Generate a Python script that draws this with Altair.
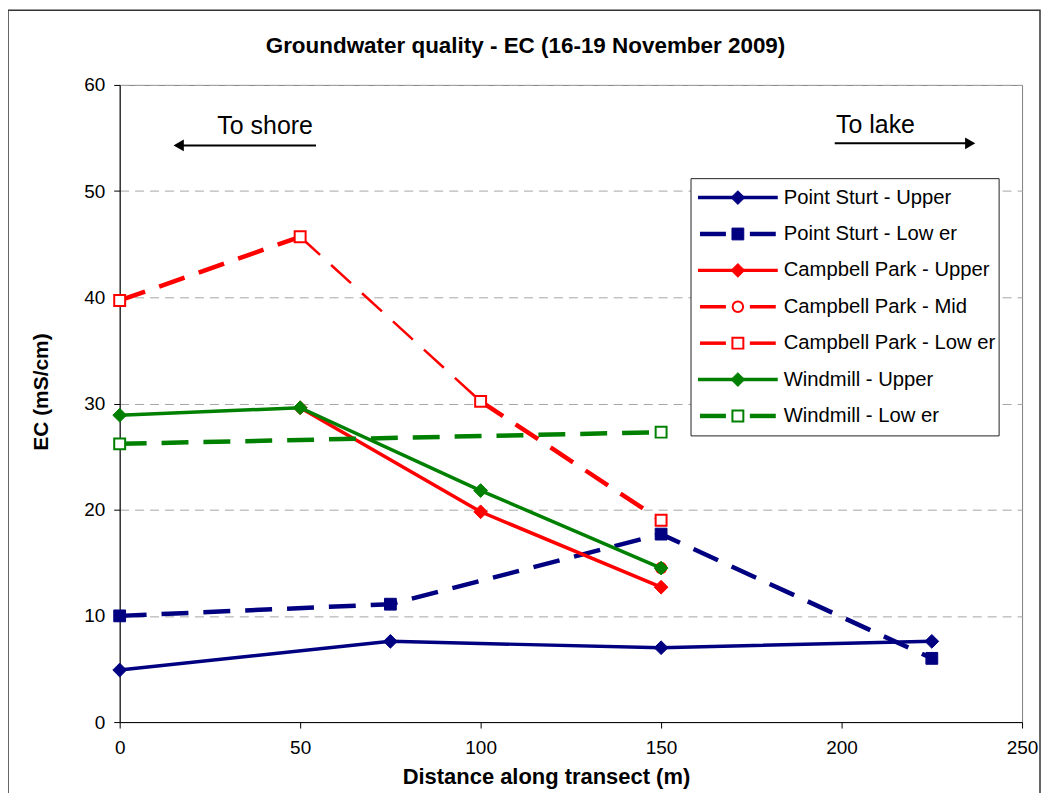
import altair as alt
import pandas as pd

FONT = "Liberation Sans"

# ---------------- data ----------------
series_names = [
    "Point Sturt - Upper",
    "Point Sturt - Low er",
    "Campbell Park - Upper",
    "Campbell Park - Mid",
    "Campbell Park - Low er",
    "Windmill - Upper",
    "Windmill - Low er",
]

ps_upper_x = [0, 75, 150, 225]
ps_upper_y = [4.9, 7.6, 7.0, 7.6]

ps_lower_x = [0, 75, 150, 225]
ps_lower_y = [10.0, 11.1, 17.7, 6.0]

cp_upper_x = [50, 100, 150]
cp_upper_y = [29.6, 19.8, 12.7]

cp_mid_x = [150]
cp_mid_y = [14.5]

cp_lower_x = [0, 50, 100, 150]
cp_lower_y = [39.7, 45.7, 30.2, 19.0]

wm_upper_x = [0, 50, 100, 150]
wm_upper_y = [28.9, 29.6, 21.8, 14.5]

wm_lower_x = [0, 150]
wm_lower_y = [26.2, 27.3]

x_ticks = [0, 50, 100, 150, 200, 250]
y_ticks = [0, 10, 20, 30, 40, 50, 60]

title_text = "Groundwater quality - EC (16-19 November 2009)"
x_title = "Distance along transect (m)"
y_title = "EC (mS/cm)"

ann_shore = "To shore"
ann_lake = "To lake"
ann_shore_pos = [40.3, 55.4]
ann_lake_pos = [209.4, 55.5]
arrow_shore_x = [16.5, 54.4]
arrow_shore_y = [54.3]
arrow_lake_x = [198.1, 235.5]
arrow_lake_y = [54.5]

# ---------------- styles ----------------
NAVY, RED, GREEN = "#000080", "#FF0000", "#008000"
DASH = [27, 15]
styles = {
    "Point Sturt - Upper": dict(color=NAVY, dash=None, width=3.5, shape="diamond", filled=True, size=190),
    "Point Sturt - Low er": dict(color=NAVY, dash=DASH, width=4.5, shape="square", filled=True, size=140),
    "Campbell Park - Upper": dict(color=RED, dash=None, width=3.5, shape="diamond", filled=True, size=190),
    "Campbell Park - Mid": dict(color=RED, dash=DASH, width=3, shape="circle", filled=False, size=110),
    "Campbell Park - Low er": dict(color=RED, dash=DASH, width=4.5, shape="square", filled=False, size=120),
    "Windmill - Upper": dict(color=GREEN, dash=None, width=3.5, shape="diamond", filled=True, size=190),
    "Windmill - Low er": dict(color=GREEN, dash=DASH, width=4.5, shape="square", filled=False, size=120),
}
thin_segments = {"Campbell Park - Low er": [1]}   # segment drawn with a thin line

data_xy = {
    "Point Sturt - Upper": (ps_upper_x, ps_upper_y),
    "Point Sturt - Low er": (ps_lower_x, ps_lower_y),
    "Campbell Park - Upper": (cp_upper_x, cp_upper_y),
    "Campbell Park - Mid": (cp_mid_x, cp_mid_y),
    "Campbell Park - Low er": (cp_lower_x, cp_lower_y),
    "Windmill - Upper": (wm_upper_x, wm_upper_y),
    "Windmill - Low er": (wm_lower_x, wm_lower_y),
}

W, H = 905, 639
PAD_L, PAD_T, PAD_R, PAD_B = 112, 76, 20, 70

xscale = alt.Scale(domain=[0, 250], nice=False, zero=False)
yscale = alt.Scale(domain=[0, 60], nice=False, zero=False)

xaxis = alt.Axis(values=x_ticks, title=None, grid=False, domainColor="black", tickColor="black",
                 tickSize=6, labelFontSize=19, labelFont=FONT, labelColor="black", labelPadding=11,
                 labelFlush=False, labelOverlap=False)
yaxis = alt.Axis(values=y_ticks, title=None, grid=True, gridColor="#A6A6A6", gridDash=[9, 6],
                 gridWidth=1, domainColor="black", tickColor="black", tickSize=6, labelFontSize=19,
                 labelFont=FONT, labelColor="black", labelPadding=9, labelFlush=False)


def enc(ch):
    return ch.encode(x=alt.X("x:Q", scale=xscale, axis=xaxis),
                     y=alt.Y("y:Q", scale=yscale, axis=yaxis))


one = pd.DataFrame({"a": [0]})
layers = []

# outer chart border
layers.append(alt.Chart(one).mark_rect(fill=None, stroke="#333333", strokeWidth=1.5).encode(
    x=alt.value(8 - 120), x2=alt.value(1043 - 120), y=alt.value(9 - 84), y2=alt.value(H + 100)))

for name in series_names:
    xs, ys = data_xy[name]
    st = styles[name]
    df = pd.DataFrame({"x": xs, "y": ys})
    if len(xs) > 1:
        if name in thin_segments:
            rows = []
            for i in range(len(xs) - 1):
                thin = i in thin_segments[name]
                rows.append({"seg": i, "thin": thin, "x": xs[i], "y": ys[i], "o": 0})
                rows.append({"seg": i, "thin": thin, "x": xs[i + 1], "y": ys[i + 1], "o": 1})
            sdf = pd.DataFrame(rows)
            thick = enc(alt.Chart(sdf[~sdf.thin]).mark_line(
                color=st["color"], strokeWidth=st["width"], strokeDash=st["dash"])).encode(
                detail="seg:N", order="o:Q")
            thn = enc(alt.Chart(sdf[sdf.thin]).mark_line(
                color=st["color"], strokeWidth=2.5, strokeDash=st["dash"])).encode(
                detail="seg:N", order="o:Q")
            layers += [thick, thn]
        else:
            kw = dict(color=st["color"], strokeWidth=st["width"])
            if st["dash"]:
                kw["strokeDash"] = st["dash"]
            layers.append(enc(alt.Chart(df).mark_line(**kw)))
    pkw = dict(shape=st["shape"], size=st["size"], opacity=1)
    if st["filled"]:
        pkw.update(filled=True, fill=st["color"], stroke=st["color"], strokeWidth=1)
    else:
        pkw.update(filled=False, fill="white", stroke=st["color"], strokeWidth=2)
    layers.append(enc(alt.Chart(df).mark_point(**pkw)))

# annotations (To shore / To lake arrows)
shore_line = pd.DataFrame({"x": [arrow_shore_x[0]], "x2": [arrow_shore_x[1]], "y": arrow_shore_y})
lake_line = pd.DataFrame({"x": [arrow_lake_x[0]], "x2": [arrow_lake_x[1]], "y": arrow_lake_y})
for d, head_x, shape in [(shore_line, arrow_shore_x[0], "triangle-left"),
                         (lake_line, arrow_lake_x[1], "triangle-right")]:
    layers.append(alt.Chart(d).mark_rule(color="black", strokeWidth=2).encode(
        x=alt.X("x:Q", scale=xscale, axis=xaxis), x2="x2:Q",
        y=alt.Y("y:Q", scale=yscale, axis=yaxis)))
    hd = pd.DataFrame({"x": [head_x], "y": d["y"].tolist()})
    layers.append(enc(alt.Chart(hd).mark_point(shape=shape, filled=True, fill="black",
                                                 stroke="black", size=70, opacity=1)))
ann = pd.DataFrame({"x": [ann_shore_pos[0], ann_lake_pos[0]],
                    "y": [ann_shore_pos[1], ann_lake_pos[1]],
                    "t": [ann_shore, ann_lake]})
layers.append(enc(alt.Chart(ann).mark_text(font=FONT, fontSize=25, color="black",
                                           baseline="alphabetic", align="center")).encode(text="t:N"))

# legend (manual)
LX0, LX1, LMID, LTX = 580, 660, 620, 666
ROW0, ROWSTEP = 113, 36.5
layers.append(alt.Chart(one).mark_rect(fill="white", stroke="#222222", strokeWidth=1).encode(
    x=alt.value(573), x2=alt.value(882), y=alt.value(94), y2=alt.value(352)))
for i, name in enumerate(series_names):
    st = styles[name]
    yy = ROW0 + i * ROWSTEP
    if st["dash"] is None:
        layers.append(alt.Chart(one).mark_rule(color=st["color"], strokeWidth=3.5).encode(
            x=alt.value(LX0), x2=alt.value(LX1), y=alt.value(yy)))
    else:
        lw = 4.5 if st["filled"] or "Windmill" in name else 3.5
        for a, b in [(LX0 + 2, LX0 + 28), (LX1 - 28, LX1 - 2)]:
            layers.append(alt.Chart(one).mark_rule(color=st["color"], strokeWidth=lw).encode(
                x=alt.value(a), x2=alt.value(b), y=alt.value(yy)))
    pkw = dict(shape=st["shape"], size=st["size"], opacity=1)
    if st["filled"]:
        pkw.update(filled=True, fill=st["color"], stroke=st["color"], strokeWidth=1)
    else:
        pkw.update(filled=False, fill="white", stroke=st["color"], strokeWidth=2)
    layers.append(alt.Chart(one).mark_point(**pkw).encode(x=alt.value(LMID), y=alt.value(yy)))
    layers.append(alt.Chart(one).mark_text(font=FONT, fontSize=20.3, color="black", align="left",
                                            baseline="middle").encode(
        x=alt.value(LTX), y=alt.value(yy), text=alt.value(name)))

# titles as text
layers.append(alt.Chart(one).mark_text(font=FONT, fontSize=22.5, fontWeight="bold", color="black",
                                        align="center", baseline="middle").encode(
    x=alt.value(527 - 120), y=alt.value(45 - 84), text=alt.value(title_text)))
layers.append(alt.Chart(one).mark_text(font=FONT, fontSize=22, fontWeight="bold", color="black",
                                        align="center", baseline="middle").encode(
    x=alt.value(548 - 120), y=alt.value(778 - 84), text=alt.value(x_title)))
layers.append(alt.Chart(one).mark_text(font=FONT, fontSize=21, fontWeight="bold", color="black",
                                        align="center", baseline="middle", angle=270).encode(
    x=alt.value(42 - 120), y=alt.value(392 - 84), text=alt.value(y_title)))

chart = alt.layer(*layers).properties(
    width=W, height=H,
    autosize=alt.AutoSizeParams(type="none"),
    padding={"left": PAD_L, "top": PAD_T, "right": PAD_R, "bottom": PAD_B},
    background="white",
).configure_view(stroke="#808080", strokeWidth=1)

chart.save("out.html", embed_options={"renderer": "svg", "actions": False})
